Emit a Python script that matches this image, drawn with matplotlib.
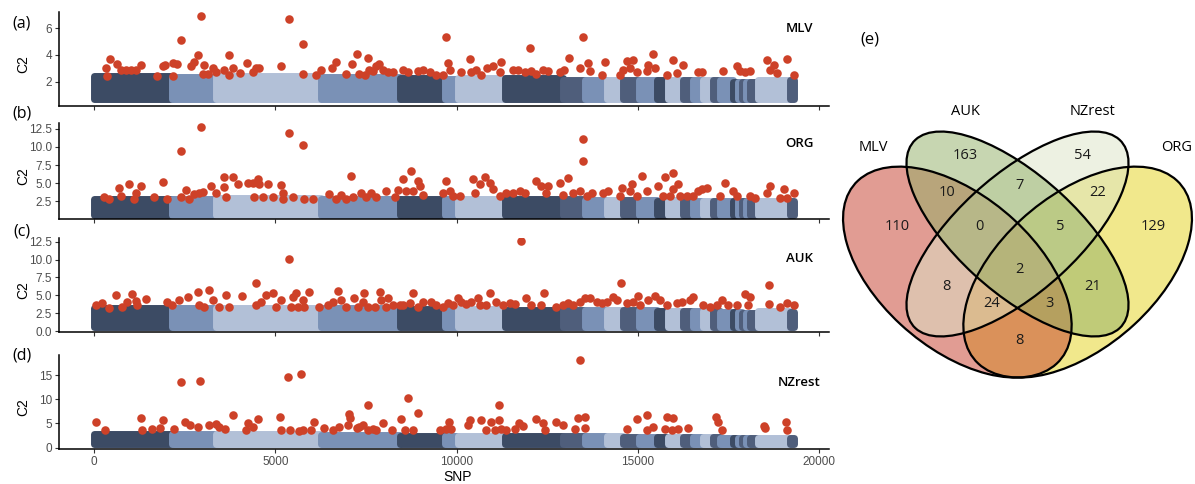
import numpy as np
import matplotlib.pyplot as plt
from matplotlib.patches import Ellipse

W, H = 1195, 484

# chromosome blocks along the SNP axis and their shade
chrom_bounds = [0, 2150, 3370, 6270, 8430, 9670, 10030, 11320, 12930, 13540, 14140,
                14580, 15030, 15520, 15830, 16240, 16520, 16790, 17070, 17260, 17620,
                17760, 17880, 17990, 18100, 18310, 19190, 19300]
chrom_shade = ['dark', 'mid', 'light', 'mid', 'dark', 'mid', 'light', 'dark', 'slate',
               'mid', 'light', 'slate', 'mid', 'dark', 'light', 'slate', 'mid', 'light',
               'slate', 'mid', 'dark', 'mid', 'slate', 'mid', 'slate', 'light', 'slate']
shade_col = {'dark': '#3C4B64', 'mid': '#7A91B6', 'light': '#B2C0D7', 'slate': '#4F5E7B'}

# approximate top / bottom of the dense non-outlier cloud in each chromosome
band_top_mlv = [2.4, 2.35, 2.4, 2.35, 2.25, 2.2, 2.25, 2.25, 2.15, 2.15, 2.15, 2.15, 2.15, 2.1,
                2.1, 2.1, 2.1, 2.1, 2.1, 2.1, 2.0, 2.0, 2.0, 2.0, 2.0, 2.1, 2.1]
band_top_org = [2.85, 2.85, 2.95, 2.85, 2.85, 2.75, 2.75, 2.75, 2.75, 2.7, 2.7, 2.7, 2.7, 2.6,
                2.7, 2.6, 2.6, 2.6, 2.6, 2.6, 2.5, 2.5, 2.5, 2.5, 2.5, 2.6, 2.6]
band_top_auk = [3.3, 3.2, 3.3, 3.2, 3.1, 3.0, 3.1, 3.0, 2.9, 2.9, 2.9, 2.9, 2.9, 2.8,
                2.8, 2.8, 2.8, 2.8, 2.8, 2.7, 2.7, 2.7, 2.6, 2.6, 2.6, 2.8, 2.7]
band_top_nz = [2.8, 2.8, 2.9, 2.6, 2.5, 2.3, 2.4, 2.4, 2.3, 2.3, 2.3, 2.2, 2.2, 2.2,
               2.2, 2.1, 2.1, 2.1, 2.1, 2.0, 2.0, 2.0, 1.9, 1.9, 1.9, 2.0, 2.0]
band_low = {'MLV': 0.7, 'ORG': 0.55, 'AUK': 0.55, 'NZrest': 0.8}

# outlier SNPs (SNP index, C2)
mlv_out = [(320, 3.0), (440, 3.7), (370, 2.45), (640, 3.3), (740, 2.85), (875, 2.85), (1010, 2.85),
           (1150, 2.85), (1290, 3.25), (1750, 2.45), (1905, 3.15), (1950, 3.25), (2165, 2.45),
           (2180, 3.4), (2300, 3.35), (2410, 5.1), (2670, 3.2), (2760, 3.5), (2875, 4.0), (2945, 6.9),
           (3010, 2.6), (3040, 3.25), (3130, 2.6), (3270, 3.0), (3360, 2.7), (3590, 2.85), (3730, 4.0),
           (3710, 2.5), (3840, 3.0), (4025, 2.65), (4205, 3.4), (4375, 2.7), (4465, 3.0), (4555, 3.0),
           (5155, 3.15), (5385, 6.65), (5755, 4.8), (5755, 2.6), (6125, 2.5), (6260, 2.9), (6565, 3.05),
           (6675, 3.45), (6950, 2.6), (7110, 3.3), (7245, 4.1), (7320, 2.6), (7460, 2.5), (7550, 3.8),
           (7595, 2.9), (7690, 2.8), (7780, 3.15), (7870, 3.3), (7965, 2.9), (8100, 2.75), (8240, 2.7),
           (8515, 2.9), (8655, 2.75), (8930, 2.8), (9070, 2.9), (9255, 2.7), (9435, 2.5), (9620, 2.5),
           (9695, 5.35), (9760, 3.4), (9805, 2.9), (10125, 2.75), (10355, 3.7), (10405, 2.75),
           (10540, 2.9), (10680, 2.5), (10835, 3.0), (11000, 3.15), (11185, 2.75), (11230, 3.5),
           (11555, 2.9), (11690, 2.9), (11875, 2.75), (12015, 4.5), (12060, 2.8), (12200, 2.6),
           (12385, 2.9), (12520, 2.8), (12845, 2.75), (12955, 2.9), (13100, 3.8), (13395, 3.0),
           (13490, 5.35), (13625, 3.4), (13670, 2.8), (14020, 2.5), (14085, 3.45), (14500, 2.5),
           (14595, 2.9), (14685, 3.55), (14775, 3.05), (14870, 3.65), (14960, 2.75), (15240, 2.8),
           (15285, 3.25), (15405, 4.1), (15465, 3.0), (15790, 2.5), (15955, 3.65), (16065, 2.65),
           (16250, 3.25), (16665, 2.75), (16755, 2.75), (17355, 2.8), (17725, 3.15), (17815, 2.8),
           (17955, 2.75), (18090, 2.8), (18550, 3.65), (18645, 2.9), (18735, 3.25), (18830, 2.65),
           (19105, 3.7), (19290, 2.5)]
org_out = [(276, 3.06), (414, 2.87), (690, 4.37), (737, 3.2), (967, 4.93), (1105, 2.87), (1151, 3.67),
           (1289, 4.61), (1657, 3.06), (1906, 5.17), (2026, 2.87), (2394, 9.38), (2394, 3.06),
           (2532, 4.04), (2624, 2.87), (2762, 3.53), (2946, 12.71), (2882, 3.67), (2992, 3.76),
           (3222, 4.61), (3360, 3.67), (3591, 5.87), (3591, 4.47), (3637, 3.06), (3839, 5.78),
           (3959, 4.93), (4235, 5.07), (4373, 5.07), (4419, 3.06), (4511, 5.54), (4557, 4.84),
           (4649, 3.06), (4787, 4.93), (4925, 3.06), (5156, 4.75), (5202, 3.67), (5202, 2.87),
           (5368, 11.86), (5478, 3.06), (5754, 10.22), (5800, 2.87), (6031, 2.87), (6491, 3.53),
           (6675, 2.87), (6813, 3.34), (6951, 2.87), (7089, 5.92), (7135, 3.06), (7366, 3.67),
           (7504, 3.06), (7642, 3.67), (7780, 3.06), (8056, 3.98), (8286, 3.06), (8378, 4.04),
           (8516, 5.54), (8608, 3.9), (8746, 6.71), (8792, 3.9), (8930, 5.31), (8976, 4.61), (9068, 3.43),
           (9621, 3.67), (9713, 5.31), (9805, 3.9), (9897, 3.2), (10081, 3.2), (10450, 5.54),
           (10496, 3.67), (10634, 4.84), (10772, 5.78), (10910, 5.07), (11002, 4.14), (11186, 3.2),
           (11370, 3.67), (11554, 3.67), (11739, 3.9), (11877, 3.67), (12199, 5.31), (12337, 4.61),
           (12475, 3.67), (12521, 4.61), (12843, 5.07), (12935, 3.43), (13073, 5.64), (13212, 3.67),
           (13396, 3.9), (13488, 11.07), (13488, 8.12), (13580, 3.2), (13718, 3.67), (14040, 3.67),
           (14178, 3.9), (14501, 3.2), (14547, 4.28), (14777, 3.9), (14823, 4.93), (14961, 3.2),
           (15099, 5.92), (15237, 3.9), (15559, 4.61), (15697, 3.2), (15743, 5.87), (15882, 3.2),
           (15955, 6.38), (15974, 4.14), (16112, 4.84), (16158, 3.2), (16342, 3.2), (16526, 3.2),
           (16664, 3.9), (16756, 4.14), (16894, 4.37), (17263, 3.2), (17401, 5.07), (17631, 3.9),
           (17723, 3.2), (18091, 3.2), (18229, 2.97), (18552, 3.67), (18644, 4.61), (18920, 2.97),
           (19012, 4.23), (19104, 2.97), (19288, 3.67)]
auk_out = [(46, 3.65), (231, 3.88), (414, 3.19), (598, 5.04), (782, 3.42), (921, 4.11), (1059, 5.18),
           (1151, 4.2), (1197, 3.65), (1427, 4.48), (2026, 4.11), (2164, 3.65), (2348, 4.34),
           (2578, 4.81), (2854, 5.5), (2900, 3.65), (3038, 3.42), (3176, 5.73), (3268, 4.34),
           (3452, 3.42), (3637, 5.04), (3729, 3.42), (4079, 4.9), (4465, 6.66), (4465, 3.65),
           (4603, 4.11), (4742, 5.04), (4925, 5.27), (5018, 3.42), (5156, 4.34), (5368, 10.13),
           (5432, 3.42), (5478, 4.81), (5570, 5.27), (5616, 3.42), (5754, 4.34), (5800, 3.42),
           (5938, 5.5), (6215, 3.42), (6445, 3.65), (6583, 4.11), (6721, 5.59), (6813, 4.34),
           (6951, 3.42), (7181, 4.67), (7273, 3.42), (7412, 4.11), (7458, 5.27), (7550, 3.42),
           (7734, 3.42), (7872, 5.5), (7918, 4.34), (8056, 3.42), (8102, 4.67), (8240, 3.65),
           (8424, 3.65), (8516, 3.65), (8700, 3.88), (8792, 5.27), (8930, 3.42), (9068, 4.11),
           (9299, 4.02), (9437, 3.65), (9621, 3.42), (9759, 3.88), (9897, 3.65), (10035, 4.57),
           (10127, 4.02), (10265, 3.74), (10404, 4.11), (10588, 4.57), (10634, 3.65), (10818, 3.65),
           (10910, 5.27), (11094, 4.11), (11278, 3.65), (11462, 3.88), (11600, 3.74), (11785, 12.54),
           (11923, 4.57), (12061, 3.65), (12337, 3.65), (12401, 5.27), (12751, 3.42), (12935, 3.65),
           (13073, 3.88), (13212, 3.65), (13396, 4.11), (13534, 4.57), (13672, 4.57), (13856, 4.11),
           (13994, 3.88), (14132, 4.11), (14316, 4.81), (14409, 4.34), (14528, 6.75), (14685, 3.88),
           (14869, 4.11), (15007, 4.94), (15053, 3.65), (15283, 4.34), (15467, 4.9), (15605, 4.34),
           (15790, 3.65), (16066, 3.88), (16204, 4.11), (16434, 4.34), (16526, 4.81), (16802, 3.65),
           (16986, 3.42), (17171, 3.65), (17309, 4.34), (17493, 3.65), (17723, 3.65), (17953, 5.13),
           (18091, 4.81), (18045, 3.65), (18598, 6.43), (18598, 3.74), (18920, 3.42), (19104, 3.88),
           (19288, 3.65)]
nz_out = [(46, 5.34), (304, 3.74), (1289, 6.03), (1335, 3.74), (1611, 3.95), (1823, 4.16), (1906, 5.68),
          (2210, 3.95), (2394, 13.67), (2504, 5.34), (2652, 4.64), (2873, 4.3), (2928, 13.88),
          (3176, 4.64), (3360, 4.85), (3452, 4.3), (3609, 3.95), (3821, 6.73), (4189, 3.6), (4235, 5.13),
          (4373, 4.3), (4511, 5.89), (5137, 6.24), (5156, 3.6), (5340, 14.71), (5404, 3.6), (5662, 3.46),
          (5708, 15.2), (5754, 3.74), (5984, 3.6), (6077, 5.34), (6353, 4.16), (6583, 3.6), (6767, 4.3),
          (6997, 4.64), (7043, 6.93), (7062, 6.03), (7246, 4.16), (7320, 4.3), (7412, 4.64), (7550, 3.6),
          (7568, 8.81), (7688, 3.95), (7762, 3.6), (7964, 4.99), (8222, 3.6), (8452, 5.82), (8563, 3.74),
          (8654, 10.2), (8792, 3.74), (8931, 7.07), (9529, 3.6), (9713, 3.95), (9787, 5.34), (9851, 3.95),
          (10311, 4.64), (10376, 5.68), (10680, 5.68), (10818, 3.6), (10956, 5.34), (11048, 3.6),
          (11168, 8.81), (11168, 5.68), (11232, 3.95), (11370, 3.6), (11600, 3.95), (11720, 5.13),
          (11831, 4.43), (12199, 5.82), (12383, 4.99), (12429, 3.6), (12751, 5.34), (12935, 4.64),
          (13258, 3.95), (13350, 6.03), (13396, 18.18), (13534, 6.24), (13534, 4.16), (14685, 3.95),
          (14961, 5.82), (15237, 3.6), (15256, 6.73), (15421, 4.3), (15743, 3.95), (15790, 6.24),
          (15974, 6.03), (15928, 3.6), (16112, 3.95), (16388, 4.16), (17152, 6.38), (17217, 5.34),
          (17309, 3.6), (18460, 4.43), (18506, 4.16), (19086, 5.34), (19104, 3.6)]

# venn counts: (label, x, y) in venn unit coordinates
venn_counts = [('163', 0.369, 0.786), ('54', 0.663, 0.786), ('10', 0.324, 0.684), ('7', 0.504, 0.705),
               ('22', 0.700, 0.684), ('110', 0.200, 0.592), ('0', 0.406, 0.592), ('5', 0.606, 0.592),
               ('129', 0.838, 0.592), ('2', 0.504, 0.478), ('8', 0.324, 0.430), ('21', 0.688, 0.430),
               ('24', 0.436, 0.386), ('3', 0.581, 0.386), ('8', 0.504, 0.286)]
venn_sets = ['MLV', 'AUK', 'NZrest', 'ORG']
venn_label_pos = {'MLV': (0.140, 0.808), 'AUK': (0.369, 0.903), 'NZrest': (0.688, 0.903), 'ORG': (0.898, 0.808)}
# centre x, centre y, semi-major, semi-minor, rotation
venn_ell = {'MLV': (0.35, 0.47, 0.35, 0.2, -45), 'AUK': (0.50, 0.573, 0.36, 0.154, -45),
            'NZrest': (0.50, 0.573, 0.36, 0.154, 45), 'ORG': (0.65, 0.47, 0.35, 0.2, 45)}
venn_col = {'MLV': '#C53B29', 'AUK': '#91AF65', 'NZrest': '#DDE5C7', 'ORG': '#E5D31A'}

RED = '#CD4128'
plt.rcParams['font.family'] = ['Liberation Sans', 'DejaVu Sans']


def box(l, t, r, b):
    return [l / W, 1 - b / H, (r - l) / W, (b - t) / H]


fig = plt.figure(figsize=(W / 100, H / 100), dpi=100)

starts = np.array(chrom_bounds[:-1])
widths = np.diff(chrom_bounds)
cols = [shade_col[s] for s in chrom_shade]

panels = [
    ('MLV', band_top_mlv, mlv_out, box(59, 12, 829, 106), (0.2, 7.2), [2, 4, 6], ['2', '4', '6'], 6.0, '(a)', 23),
    ('ORG', band_top_org, org_out, box(59, 123, 829, 219), (0.05, 13.3), [2.5, 5, 7.5, 10, 12.5],
     ['2.5', '5.0', '7.5', '10.0', '12.5'], 10.5, '(b)', 114),
    ('AUK', band_top_auk, auk_out, box(59, 238, 829, 332), (-0.1, 13.0), [0, 2.5, 5, 7.5, 10, 12.5],
     ['0.0', '2.5', '5.0', '7.5', '10.0', '12.5'], 10.2, '(c)', 231),
    ('NZrest', band_top_nz, nz_out, box(59, 355, 829, 449), (-0.3, 19.2), [0, 5, 10, 15],
     ['0', '5', '10', '15'], 13.4, '(d)', 355),
]

for i, (name, tops, outl, pos, ylim, yt, ytl, name_y, letter, letter_y) in enumerate(panels):
    ax = fig.add_axes(pos)
    low = band_low[name]
    ax.bar(starts, np.array(tops) - low, width=widths, bottom=low, align='edge',
           color=cols, edgecolor=cols, linewidth=5, joinstyle='round', zorder=1)
    sx, sy = zip(*outl)
    ax.scatter(sx, sy, s=38, color=RED, linewidths=0, zorder=3)
    ax.set_xlim(-965, 20265)
    ax.set_ylim(*ylim)
    ax.set_yticks(yt)
    ax.set_yticklabels(ytl)
    ax.set_xticks([0, 5000, 10000, 15000, 20000])
    if i < 3:
        ax.set_xticklabels([])
    for s in ['top', 'right']:
        ax.spines[s].set_visible(False)
    for s in ['left', 'bottom']:
        ax.spines[s].set_linewidth(1.1)
    ax.tick_params(length=3, width=0.8, color='#333333', labelcolor='#4D4D4D', labelsize=8.5, pad=2)
    ax.text(19450, name_y, name, ha='center', va='center', fontsize=9.5, family='Open Sans',
            fontweight='semibold', color='black')
    fig.text(22 / W, 1 - letter_y / H, letter, ha='center', va='center', fontsize=11.5, family='Open Sans')
    fig.text(23 / W, pos[1] + pos[3] * 0.45, 'C2', rotation=90, ha='center', va='center', fontsize=10)

fig.text(458 / W, 1 - 477 / H, 'SNP', ha='center', va='center', fontsize=10)

# venn diagram
vax = fig.add_axes(box(817, 76, 1218, 446))
vax.set_xlim(0, 1)
vax.set_ylim(0, 1)
vax.axis('off')
for name in ['ORG', 'MLV', 'NZrest', 'AUK']:
    cx, cy, a, b, ang = venn_ell[name]
    vax.add_patch(Ellipse((cx, cy), 2 * a, 2 * b, angle=ang, facecolor=venn_col[name], alpha=0.5,
                          edgecolor='none'))
for name in venn_sets:
    cx, cy, a, b, ang = venn_ell[name]
    vax.add_patch(Ellipse((cx, cy), 2 * a, 2 * b, angle=ang, facecolor='none', edgecolor='black',
                          linewidth=1.6))
for lab, x, y in venn_counts:
    vax.text(x, y, lab, ha='center', va='center', fontsize=10.5, family='Open Sans', color='#1A1A1A')
for name in venn_sets:
    x, y = venn_label_pos[name]
    vax.text(x, y, name, ha='center', va='center', fontsize=10.5, family='Open Sans')
fig.text(870 / W, 1 - 40 / H, '(e)', ha='center', va='center', fontsize=12, family='Open Sans')

fig.savefig('out.png', dpi=100)
